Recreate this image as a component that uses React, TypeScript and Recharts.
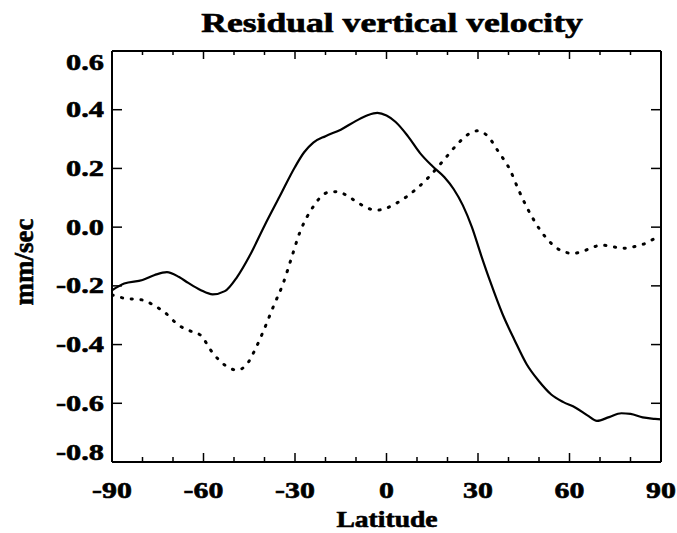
import { LineChart, Line, XAxis, YAxis } from 'recharts'

// Latitude / velocity traces (mm/sec)
const solidLat = [-90, -86, -80, -76, -72, -68, -65, -61, -57, -53, -49, -45, -40, -35, -30, -27, -24, -20, -15, -10, -6, -3, 0, 3, 7, 11, 15, 19, 22, 25, 28, 31, 34, 38, 42, 46, 50, 54, 58, 62, 66, 69, 73, 77, 80, 84, 88, 90]
const solidVel = [-0.215, -0.192, -0.18, -0.163, -0.153, -0.17, -0.19, -0.214, -0.229, -0.218, -0.17, -0.1, 0.005, 0.105, 0.205, 0.255, 0.288, 0.31, 0.332, 0.362, 0.382, 0.389, 0.38, 0.358, 0.31, 0.252, 0.208, 0.17, 0.13, 0.075, 0.0, -0.095, -0.185, -0.295, -0.385, -0.468, -0.525, -0.57, -0.596, -0.615, -0.642, -0.66, -0.647, -0.634, -0.636, -0.648, -0.653, -0.655]

const dottedLat = [-90, -86, -80, -76, -73, -68, -64, -61, -57, -53, -49, -46, -43, -40, -37, -34, -31, -28.5, -26, -24, -22, -19, -16, -12.5, -9, -6, -3, 0, 3, 6.5, 10, 14, 18.5, 23, 26.5, 29.6, 33, 36.7, 40.5, 43.3, 46.5, 50, 54, 57.4, 61, 64, 67.3, 70.6, 74.4, 78, 81, 84.2, 87.5, 90]
const dottedVel = [-0.231, -0.242, -0.248, -0.268, -0.288, -0.335, -0.355, -0.368, -0.428, -0.47, -0.487, -0.47, -0.415, -0.345, -0.268, -0.195, -0.1, -0.02, 0.036, 0.07, 0.098, 0.119, 0.121, 0.104, 0.081, 0.064, 0.058, 0.065, 0.08, 0.103, 0.132, 0.172, 0.225, 0.28, 0.314, 0.328, 0.312, 0.257, 0.195, 0.127, 0.058, -0.004, -0.055, -0.081, -0.089, -0.084, -0.07, -0.061, -0.067, -0.072, -0.067, -0.058, -0.041, -0.03]

const latTicks = [-90, -80, -70, -60, -50, -40, -30, -20, -10, 0, 10, 20, 30, 40, 50, 60, 70, 80, 90]
const velTicks = [-0.8, -0.6, -0.4, -0.2, 0.0, 0.2, 0.4, 0.6]

const W = 677
const H = 533
// each axis takes 1px, so the frame lands at x 112..661, y 51..462
const M = { top: 50, right: 15, bottom: 70, left: 111 }
const TOP = 51
const BOTTOM = 462
const FONT = '"Liberation Serif", "Times New Roman", serif'

const solidData = solidLat.map((lat, i) => ({ lat, vel: solidVel[i] }))
const dottedData = dottedLat.map((lat, i) => ({ lat, vel: dottedVel[i] }))

// heavy bold serif, slightly stroked like the printed original
const textStyle = { fontFamily: FONT, fontWeight: 700, fill: '#000', stroke: '#000', strokeWidth: 0.6 }

// IDL-style ticks: drawn inward from the frame, labels only on bottom/left
const BottomTick = ({ x, y, payload }: any) => {
  const major = payload.value % 30 === 0
  return (
    <g>
      <line x1={x} y1={y} x2={x} y2={y - (major ? 9 : 5)} stroke="#000" strokeWidth={1.5} />
      {major && (
        <text transform={`translate(${x},${y + 36}) scale(1.3,1)`} textAnchor="middle" fontSize={23} {...textStyle}>
          {payload.value}
        </text>
      )}
    </g>
  )
}

const TopTick = ({ x, y, payload }: any) => {
  const major = payload.value % 30 === 0
  return <line x1={x} y1={y} x2={x} y2={y + (major ? 8 : 4)} stroke="#000" strokeWidth={1.5} />
}

const LeftTick = ({ x, y, payload }: any) => {
  // end labels are pulled inside the frame
  const cy = Math.min(Math.max(y, TOP + 11), BOTTOM - 10)
  return (
    <g>
      <line x1={x} y1={y} x2={x + 10} y2={y} stroke="#000" strokeWidth={1.5} />
      <text transform={`translate(${x - 8},${cy + 7.5}) scale(1.32,1)`} textAnchor="end" fontSize={23} {...textStyle}>
        {Number(payload.value).toFixed(1)}
      </text>
    </g>
  )
}

const RightTick = ({ x, y }: any) => (
  <line x1={x} y1={y} x2={x - 10} y2={y} stroke="#000" strokeWidth={1.5} />
)

const frame = { stroke: '#000', strokeWidth: 2 }

export default function App() {
  return (
    <div style={{ position: 'absolute', left: 0, top: 0, width: W, height: H, background: '#fff' }}>
      <LineChart width={W} height={H} margin={M}>
        <XAxis
          xAxisId="bottom" dataKey="lat" type="number" domain={[-90, 90]} ticks={latTicks}
          height={1} tickSize={0} tickMargin={0} tick={<BottomTick />} tickLine={false}
          axisLine={frame} allowDataOverflow interval={0}
        />
        <XAxis
          xAxisId="top" orientation="top" dataKey="lat" type="number" domain={[-90, 90]} ticks={latTicks}
          height={1} tickSize={0} tickMargin={0} tick={<TopTick />} tickLine={false}
          axisLine={frame} allowDataOverflow interval={0}
        />
        <YAxis
          yAxisId="left" type="number" domain={[-0.8, 0.6]} ticks={velTicks}
          width={1} tickSize={0} tickMargin={0} tick={<LeftTick />} tickLine={false}
          axisLine={frame} allowDataOverflow interval={0}
        />
        <YAxis
          yAxisId="right" orientation="right" type="number" domain={[-0.8, 0.6]} ticks={velTicks}
          width={1} tickSize={0} tickMargin={0} tick={<RightTick />} tickLine={false}
          axisLine={frame} allowDataOverflow interval={0}
        />
        <Line
          xAxisId="bottom" yAxisId="left" data={solidData} dataKey="vel" type="monotone"
          stroke="#000" strokeWidth={2.2} dot={false} isAnimationActive={false}
        />
        <Line
          xAxisId="bottom" yAxisId="left" data={dottedData} dataKey="vel" type="monotone"
          stroke="#000" strokeWidth={3} strokeDasharray="1.2 8.6" strokeLinecap="round"
          dot={false} isAnimationActive={false}
        />
      </LineChart>
      <svg width={W} height={H} style={{ position: 'absolute', left: 0, top: 0, pointerEvents: 'none' }}>
        <text transform="translate(392,32) scale(1.37,1.05)" textAnchor="middle" fontSize={26} {...textStyle}>
          Residual vertical velocity
        </text>
        <text transform="translate(387,527) scale(1.2,1)" textAnchor="middle" fontSize={23} {...textStyle}>
          Latitude
        </text>
        <text transform="translate(33,262) rotate(-90)" textAnchor="middle" fontSize={27} {...textStyle}>
          mm/sec
        </text>
      </svg>
    </div>
  )
}
